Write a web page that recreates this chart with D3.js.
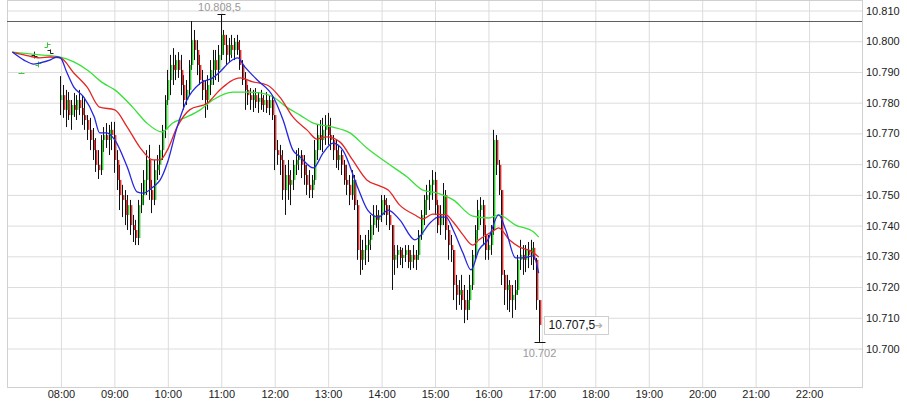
<!DOCTYPE html>
<html><head><meta charset="utf-8">
<script src="https://cdn.jsdelivr.net/npm/d3@7"></script>
<style>
html,body{margin:0;padding:0;background:#fff;}
svg{display:block;font-family:"Liberation Sans",Arial,sans-serif;}
</style></head>
<body>
<svg id="chart" width="907" height="407"></svg>
<script>
// ---------- DATA ----------
const hourTicks = ["08:00","09:00","10:00","11:00","12:00","13:00","14:00","15:00","16:00","17:00","18:00","19:00","20:00","21:00","22:00"];
const priceTicks = [10700,10710,10720,10730,10740,10750,10760,10770,10780,10790,10800,10810];

// pre-market bars
const preTime  = ["07:16","07:30","07:35","07:45","07:48"];
const preOpen  = [10789.5,10795.5,10792.0,10798.0,10797.0];
const preHigh  = [10789.5,10796.3,10793.1,10799.3,10797.0];
const preLow   = [10789.5,10794.4,10791.5,10798.0,10796.0];
const preClose = [10789.5,10795.0,10792.7,10799.0,10796.0];

// session bars, 3-minute, starting 08:00
const barStart = "08:00";
const barStepMin = 3;
const barOpen = [10780.7,10782.3,10777.5,10780.7,10775.8,10779.1,10777.5,10780.7,10778.1,10775.8,
10774.2,10771.0,10767.7,10764.4,10759.6,10757.9,10767.7,10769.3,10767.7,10771.0,
10769.3,10761.2,10754.7,10749.8,10748.2,10743.3,10746.5,10740.0,10738.4,10735.8,
10746.5,10749.8,10754.7,10761.2,10751.4,10748.2,10757.9,10759.6,10764.4,10771.0,
10780.7,10787.2,10792.1,10790.5,10793.7,10790.5,10785.6,10780.7,10784.0,10792.1,
10800.2,10797.0,10792.1,10787.2,10784.0,10780.7,10785.6,10790.5,10793.7,10790.5,
10795.4,10801.9,10798.6,10795.4,10798.6,10797.0,10799.6,10797.0,10792.1,10787.2,
10784.0,10782.3,10780.7,10782.3,10780.1,10781.4,10779.1,10780.7,10778.1,10780.7,
10775.8,10764.4,10762.8,10761.2,10751.4,10756.3,10753.1,10754.7,10759.6,10761.2,
10762.8,10759.6,10756.3,10753.1,10751.4,10754.7,10764.4,10769.3,10767.7,10771.0,
10772.6,10769.3,10767.7,10764.4,10761.2,10762.8,10759.6,10754.7,10753.1,10749.8,
10754.7,10746.5,10731.9,10728.7,10731.9,10733.5,10735.2,10740.0,10743.3,10741.7,
10743.3,10748.2,10746.5,10743.3,10740.0,10728.7,10730.3,10731.9,10729.3,10730.3,
10731.9,10728.0,10730.3,10728.7,10730.3,10736.8,10743.3,10748.2,10749.8,10753.1,
10754.7,10746.5,10740.0,10743.3,10749.8,10738.4,10733.5,10731.9,10720.5,10717.3,
10718.9,10715.6,10712.4,10715.6,10720.5,10730.3,10738.4,10744.9,10746.5,10736.8,
10731.9,10733.5,10738.4,10767.7,10759.6,10751.4,10723.8,10718.9,10720.5,10715.6,
10717.3,10718.9,10728.7,10730.3,10728.7,10731.9,10730.3,10732.6,10728.7,10715.6];
const barHigh = [10788.5,10785.6,10784.0,10783.3,10780.7,10783.0,10782.3,10784.0,10782.3,10781.4,
10775.8,10774.9,10771.6,10768.3,10764.4,10769.3,10771.9,10773.2,10772.6,10773.6,
10773.6,10764.4,10759.6,10753.1,10751.4,10749.8,10748.2,10743.3,10741.7,10748.2,
10753.7,10757.9,10764.4,10766.1,10754.7,10761.2,10762.8,10766.1,10772.6,10782.3,
10790.5,10795.4,10797.6,10795.4,10796.3,10795.4,10788.8,10787.2,10793.7,10806.4,
10803.5,10800.2,10795.4,10790.5,10787.2,10788.8,10793.7,10797.0,10797.0,10798.6,
10808.5,10803.5,10801.9,10800.9,10801.9,10800.9,10801.9,10800.2,10793.7,10789.8,
10785.6,10784.6,10784.0,10784.6,10783.3,10784.0,10782.3,10783.3,10782.3,10782.3,
10775.8,10767.7,10766.1,10764.4,10759.6,10761.2,10757.9,10761.2,10764.4,10765.1,
10764.4,10762.8,10759.6,10757.9,10756.3,10767.7,10772.6,10774.2,10774.9,10775.8,
10776.5,10774.9,10769.3,10767.7,10766.1,10764.4,10761.2,10759.6,10756.3,10757.9,
10756.3,10748.2,10736.8,10735.2,10736.8,10738.4,10743.3,10746.5,10746.5,10744.9,
10749.8,10749.8,10748.8,10746.5,10740.0,10733.5,10733.5,10732.9,10732.6,10733.5,
10733.5,10731.9,10733.5,10731.9,10738.4,10744.9,10749.8,10753.1,10754.7,10757.9,
10757.3,10748.2,10746.5,10753.7,10751.4,10740.0,10736.8,10731.9,10723.8,10722.1,
10723.8,10720.5,10718.9,10723.8,10731.9,10740.0,10748.2,10749.1,10748.2,10740.0,
10736.8,10740.0,10771.0,10769.3,10761.2,10751.4,10725.4,10723.8,10722.1,10720.5,
10722.1,10730.3,10735.2,10733.5,10733.5,10734.5,10735.2,10734.5,10729.3,10715.6];
const barLow = [10775.8,10774.9,10771.9,10774.2,10771.0,10775.2,10774.2,10775.8,10772.6,10771.0,
10767.7,10764.4,10761.2,10757.3,10755.0,10756.3,10763.8,10765.1,10762.8,10764.4,
10757.0,10751.4,10744.9,10742.6,10740.0,10738.4,10736.8,10734.5,10733.5,10733.5,
10743.9,10746.5,10749.8,10748.2,10743.9,10746.5,10754.7,10756.3,10761.2,10768.3,
10779.1,10782.3,10785.6,10787.2,10787.9,10782.3,10777.5,10779.1,10782.3,10790.5,
10793.7,10788.8,10785.6,10780.7,10774.9,10777.5,10782.3,10785.6,10787.2,10786.6,
10793.7,10795.4,10792.1,10793.1,10794.4,10793.7,10795.4,10790.5,10785.6,10777.5,
10779.1,10777.5,10776.8,10778.1,10776.5,10777.5,10776.8,10776.5,10775.8,10774.2,
10757.9,10759.6,10756.3,10748.2,10743.3,10748.2,10746.5,10751.4,10756.3,10757.9,
10755.3,10753.1,10749.8,10748.8,10748.8,10753.1,10761.2,10764.4,10763.8,10766.1,
10766.1,10764.4,10761.2,10758.6,10757.9,10756.3,10753.1,10749.8,10746.5,10748.2,
10744.9,10728.7,10723.8,10725.4,10727.0,10728.0,10731.9,10736.8,10739.1,10737.8,
10741.0,10743.3,10740.0,10738.4,10718.9,10723.8,10726.0,10727.0,10726.0,10728.0,
10726.0,10725.4,10726.0,10725.4,10728.7,10735.2,10740.0,10743.3,10744.9,10748.2,
10743.3,10737.4,10736.8,10740.0,10735.2,10728.7,10728.0,10715.6,10712.4,10714.0,
10712.4,10708.1,10709.1,10712.4,10718.9,10728.7,10735.2,10740.0,10733.5,10728.7,
10728.7,10730.3,10736.8,10756.3,10749.8,10720.5,10714.0,10712.4,10711.7,10709.8,
10712.4,10717.3,10725.4,10723.8,10724.7,10726.0,10727.0,10725.4,10712.4,10702.0];
const barClose = [10782.3,10777.5,10780.7,10775.8,10779.1,10777.5,10780.7,10778.1,10775.8,10774.2,
10771.0,10767.7,10764.4,10759.6,10757.9,10767.7,10769.3,10767.7,10771.0,10769.3,
10761.2,10754.7,10749.8,10748.2,10743.3,10746.5,10740.0,10738.4,10735.8,10746.5,
10749.8,10754.7,10761.2,10751.4,10748.2,10757.9,10759.6,10764.4,10771.0,10780.7,
10787.2,10792.1,10790.5,10793.7,10790.5,10785.6,10780.7,10784.0,10792.1,10800.2,
10797.0,10792.1,10787.2,10784.0,10780.7,10785.6,10790.5,10793.7,10790.5,10795.4,
10801.9,10798.6,10795.4,10798.6,10797.0,10799.6,10797.0,10792.1,10787.2,10784.0,
10782.3,10780.7,10782.3,10780.1,10781.4,10779.1,10780.7,10778.1,10780.7,10775.8,
10764.4,10762.8,10761.2,10751.4,10756.3,10753.1,10754.7,10759.6,10761.2,10762.8,
10759.6,10756.3,10753.1,10751.4,10754.7,10764.4,10769.3,10767.7,10771.0,10772.6,
10769.3,10767.7,10764.4,10761.2,10762.8,10759.6,10754.7,10753.1,10749.8,10754.7,
10746.5,10731.9,10728.7,10731.9,10733.5,10735.2,10740.0,10743.3,10741.7,10743.3,
10748.2,10746.5,10743.3,10740.0,10728.7,10730.3,10731.9,10729.3,10730.3,10731.9,
10728.0,10730.3,10728.7,10730.3,10736.8,10743.3,10748.2,10749.8,10753.1,10754.7,
10746.5,10740.0,10743.3,10749.8,10738.4,10733.5,10731.9,10720.5,10717.3,10718.9,
10715.6,10712.4,10715.6,10720.5,10730.3,10738.4,10744.9,10746.5,10736.8,10731.9,
10733.5,10738.4,10767.7,10759.6,10751.4,10723.8,10718.9,10720.5,10715.6,10717.3,
10718.9,10728.7,10730.3,10728.7,10731.9,10730.3,10732.6,10728.7,10715.6,10707.5];

// moving averages
const blueTime = ["07:06","07:19","07:30","07:37","07:48","07:56","08:00","08:07","08:15","08:26","08:38","08:44","08:52","09:01","09:15","09:26","09:33","09:44","09:52","10:00","10:11","10:22","10:37","10:51","10:59","11:10","11:19","11:27","11:41","11:59","12:10","12:21","12:29","12:44","12:55","13:06","13:17","13:34","13:45","13:57","14:08","14:21","14:38","14:56","15:04","15:13","15:21","15:32","15:41","15:50","16:00","16:12","16:20","16:31","16:39","16:51","16:57"];
const blueVal  = [10796.3,10793.7,10792.4,10792.8,10793.7,10794.7,10794.4,10789.8,10784.9,10781.7,10775.2,10770.0,10770.0,10767.7,10758.9,10750.8,10750.4,10752.4,10754.7,10760.2,10771.9,10780.7,10786.2,10787.9,10789.8,10793.1,10794.4,10791.5,10787.2,10781.7,10774.2,10764.4,10762.2,10758.6,10763.5,10766.7,10764.4,10752.1,10744.9,10742.6,10744.9,10741.7,10735.2,10741.0,10742.6,10742.6,10738.4,10730.9,10725.4,10732.0,10735.2,10743.3,10738.4,10729.3,10729.3,10730.0,10724.4];
const redTime  = ["07:06","07:19","07:37","07:48","08:00","08:15","08:30","08:44","09:01","09:15","09:29","09:44","09:52","10:00","10:11","10:25","10:45","10:59","11:22","11:36","11:52","12:07","12:21","12:37","12:48","12:59","13:14","13:28","13:44","13:59","14:08","14:21","14:38","14:47","14:58","15:13","15:21","15:32","15:43","15:50","16:06","16:12","16:24","16:35","16:48","16:57"];
const redVal   = [10796.3,10795.4,10794.4,10794.7,10794.4,10789.5,10784.9,10778.4,10777.5,10771.9,10765.4,10761.2,10761.2,10764.4,10771.9,10777.5,10779.7,10784.0,10787.9,10786.6,10785.6,10781.4,10775.2,10770.9,10768.0,10768.7,10767.0,10761.2,10754.7,10752.7,10751.4,10746.5,10743.3,10742.0,10743.6,10743.3,10741.0,10736.8,10733.5,10735.2,10738.1,10739.1,10735.2,10732.9,10731.6,10729.6];
const greenTime = ["07:06","07:37","08:00","08:15","08:30","08:48","09:01","09:21","09:37","09:54","10:06","10:22","10:37","10:51","11:14","11:29","11:44","11:59","12:14","12:29","12:44","13:06","13:25","13:44","14:07","14:29","14:47","15:03","15:21","15:43","16:01","16:12","16:31","16:51","16:57"];
const greenVal  = [10796.3,10795.4,10794.7,10793.1,10790.5,10786.2,10784.0,10778.4,10773.2,10770.3,10773.2,10775.2,10777.5,10780.7,10783.3,10783.3,10783.0,10781.7,10778.4,10775.8,10773.2,10771.9,10770.0,10765.1,10760.2,10755.7,10751.4,10750.4,10748.2,10742.9,10742.3,10743.3,10740.0,10737.8,10736.1];

const refLine = 10806.4;
const lastPrice = 10707.5;
const dayHigh = 10808.5, dayHighTime = "11:00";
const dayLow = 10702.0, dayLowTime = "16:57";

// ---------- CHART ----------
const L = 7, R = 862, T = 0, B = 387;
const parseT = s => { const [h, m] = s.split(":").map(Number); return new Date(2015, 0, 5, h, m); };
const x = d3.scaleTime().domain([parseT("07:00"), parseT("23:00")]).range([L, R]);
const y = d3.scaleLinear().domain([10700, 10810]).range([348, 10]);
const loc = d3.formatLocale({decimal: ",", thousands: ".", grouping: [3], currency: ["", ""]});
const fmt = loc.format(",.1~f");

const svg = d3.select("#chart");

// y axis with grid
const yAxis = d3.axisRight(y).tickValues(priceTicks).tickFormat(fmt).tickSize(-(R - L)).tickPadding(4);
const gy = svg.append("g").attr("transform", `translate(${R},0.5)`).call(yAxis);
gy.select(".domain").remove();
gy.selectAll("line").attr("stroke", "#dcdcdc");
gy.selectAll("text").attr("fill", "#222").style("font-size", "11px");

// x axis with grid
const xAxis = d3.axisBottom(x).tickValues(hourTicks.map(parseT)).tickFormat(d3.timeFormat("%H:%M")).tickSize(-(B - T)).tickPadding(3);
const gx = svg.append("g").attr("transform", `translate(0.5,${B})`).call(xAxis);
gx.select(".domain").remove();
gx.selectAll("line").attr("stroke", "#dcdcdc");
gx.selectAll("text").attr("fill", "#222").style("font-size", "11px");

// frame
svg.append("rect").attr("x", L + 0.5).attr("y", T + 0.5).attr("width", R - L).attr("height", B - T)
  .attr("fill", "none").attr("stroke", "#d0d0d0");

// reference line
svg.append("line").attr("x1", L).attr("x2", R).attr("y1", Math.round(y(refLine)) + 0.5).attr("y2", Math.round(y(refLine)) + 0.5)
  .attr("stroke", "#606060").attr("stroke-width", 1);

// pre-market bars (OHLC ticks)
const gPre = svg.append("g");
preTime.forEach((tm, i) => {
  const cx = Math.round(x(parseT(tm))) + 0.5;
  const col = preClose[i] >= preOpen[i] ? "#33cc33" : "#222";
  gPre.append("line").attr("x1", cx).attr("x2", cx).attr("y1", y(preHigh[i]) - 0.5).attr("y2", y(preLow[i]) + 0.5).attr("stroke", col);
  gPre.append("line").attr("x1", cx - 3).attr("x2", cx).attr("y1", Math.round(y(preOpen[i])) + 0.5).attr("y2", Math.round(y(preOpen[i])) + 0.5).attr("stroke", col);
  gPre.append("line").attr("x1", cx).attr("x2", cx + 3).attr("y1", Math.round(y(preClose[i])) + 0.5).attr("y2", Math.round(y(preClose[i])) + 0.5).attr("stroke", col);
});

// session candles
const t0 = parseT(barStart);
const bars = barClose.map((c, i) => ({
  t: d3.timeMinute.offset(t0, i * barStepMin),
  o: barOpen[i], h: barHigh[i], l: barLow[i], c: c
}));
const gBars = svg.append("g");
gBars.selectAll("line.wick").data(bars).join("line").attr("class", "wick")
  .attr("x1", d => Math.round(x(d.t)) + 0.5).attr("x2", d => Math.round(x(d.t)) + 0.5)
  .attr("y1", d => y(d.h)).attr("y2", d => y(d.l))
  .attr("stroke", "#111").attr("stroke-width", 1);
gBars.selectAll("rect.body").data(bars).join("rect").attr("class", "body")
  .attr("x", d => Math.round(x(d.t)) + 1)
  .attr("width", 1.4)
  .attr("y", d => y(Math.max(d.o, d.c)))
  .attr("height", d => Math.max(1, Math.abs(y(d.o) - y(d.c))))
  .attr("fill", d => d.c >= d.o ? "#2fcf2f" : "#e03030");

// moving averages
const line = d3.line().x(d => x(d[0])).y(d => y(d[1])).curve(d3.curveMonotoneX);
const mas = [
  {t: greenTime, v: greenVal, c: "#3ae03a"},
  {t: redTime, v: redVal, c: "#e32626"},
  {t: blueTime, v: blueVal, c: "#2626e0"}
];
mas.forEach(m => {
  svg.append("path").datum(m.t.map((tm, i) => [parseT(tm), m.v[i]]))
    .attr("d", line).attr("fill", "none").attr("stroke", m.c).attr("stroke-width", 1.3);
});

// day high marker
const hx = Math.round(x(parseT(dayHighTime))) + 0.5;
svg.append("line").attr("x1", hx - 4).attr("x2", hx + 4).attr("y1", Math.round(y(dayHigh)) - 0.5).attr("y2", Math.round(y(dayHigh)) - 0.5).attr("stroke", "#111");
svg.append("text").attr("x", hx - 2).attr("y", 10.5).attr("text-anchor", "middle").attr("fill", "#999").style("font-size", "11px").text(fmt(dayHigh));

// day low marker
const lx = Math.round(x(parseT(dayLowTime))) + 0.5;
svg.append("line").attr("x1", lx - 5).attr("x2", lx + 6).attr("y1", Math.round(y(dayLow)) + 0.5).attr("y2", Math.round(y(dayLow)) + 0.5).attr("stroke", "#111");
svg.append("text").attr("x", lx).attr("y", 357).attr("text-anchor", "middle").attr("fill", "#999").style("font-size", "11px").text(fmt(dayLow));

// last price box
const py = y(lastPrice);
const bx = Math.round(x(parseT("17:00"))) + 3.5;
svg.append("rect").attr("x", bx).attr("y", Math.round(py - 9) + 0.5).attr("width", 64).attr("height", 18)
  .attr("fill", "#fff").attr("stroke", "#cfcfcf");
svg.append("text").attr("x", bx + 4).attr("y", py + 4.5).attr("fill", "#111").style("font-size", "12px").text(fmt(lastPrice));
svg.append("text").attr("x", bx + 50).attr("y", py + 4).attr("fill", "#b0b0b0").style("font-size", "10px")
  .style("font-family", "DejaVu Sans").text("➔");
</script>
</body></html>
